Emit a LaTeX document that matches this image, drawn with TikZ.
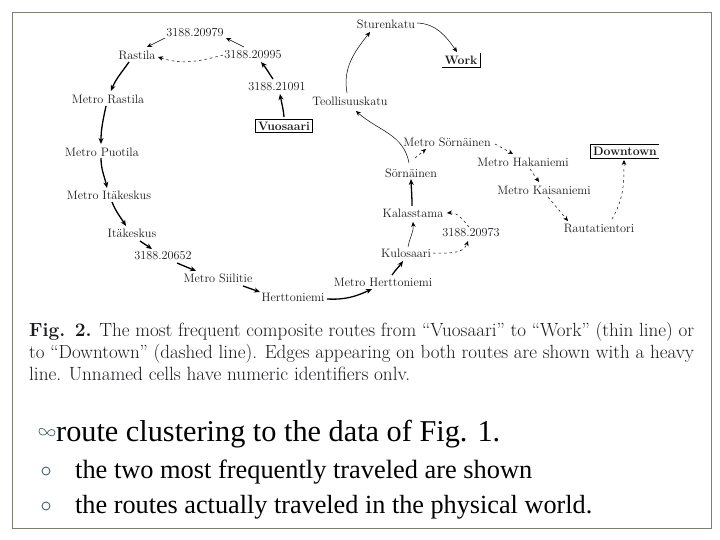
\documentclass[tikz,border=0pt]{standalone}
\usepackage{fontspec}
\usepackage{graphicx}
\newfontfamily\slidefont{Liberation Serif}
\usetikzlibrary{arrows.meta}
\definecolor{framecol}{RGB}{125,128,105}
\definecolor{bulletcol}{RGB}{70,100,115}
\definecolor{inkcol}{RGB}{25,25,30}
\tikzset{
  place/.style={font=\fontsize{12.2}{14}\selectfont,text=inkcol,inner sep=1.5pt},
  goal/.style={place,draw,line width=0.8pt,inner sep=2.5pt},
  goalopen/.style={place,inner sep=2.5pt},
  heavy/.style={-{Stealth[length=6pt,width=5pt]},line width=1.3pt},
  thinroute/.style={-{Stealth[length=5pt,width=4.5pt]},line width=0.5pt},
  dashroute/.style={thinroute,dash pattern=on 2.5pt off 3pt},
  caption/.style={anchor=base west,inner sep=0pt,font=\fontsize{16}{18}\selectfont,text=inkcol},
  slide/.style={anchor=base west,inner sep=0pt,font=\slidefont,text=black},
}
\begin{document}
\begin{tikzpicture}[x=1pt,y=-1pt]
\useasboundingbox (0,0) rectangle (720,540);
\fill[white] (0,0) rectangle (720,540);
\draw[framecol,line width=1pt] (12,12.5) rectangle (711.5,528);
% nodes
\node[place] (a20979) at (195,33) {3188.20979};
\node[place] (rastila) at (137,55) {Rastila};
\node[place] (a20995) at (253,55) {3188.20995};
\node[place] (a21091) at (277,87) {3188.21091};
\node[goal] (vuosaari) at (284,126) {\textbf{Vuosaari}};
\node[place] (mrastila) at (108,99) {Metro Rastila};
\node[place] (mpuotila) at (102,152) {Metro Puotila};
\node[place] (mitakeskus) at (109,195) {Metro Itäkeskus};
\node[place] (itakeskus) at (132,233) {Itäkeskus};
\node[place] (a20652) at (163,256) {3188.20652};
\node[place] (msiilitie) at (218,278) {Metro Siilitie};
\node[place] (hertto) at (293,297) {Herttoniemi};
\node[place] (mhertto) at (383,282) {Metro Herttoniemi};
\node[place] (kulo) at (406,253) {Kulosaari};
\node[place] (a20973) at (471,233) {3188.20973};
\node[place] (kala) at (413,213) {Kalasstama};
\node[place] (sorn) at (411,173) {Sörnäinen};
\node[place] (msorn) at (447,142) {Metro Sörnäinen};
\node[place] (mhaka) at (523,162) {Metro Hakaniemi};
\node[place] (mkaisa) at (544,190) {Metro Kaisaniemi};
\node[place] (rauta) at (599,228) {Rautatientori};
\node[goalopen] (downtown) at (625,151) {\textbf{Downtown}};
\node[place] (teol) at (350,101) {Teollisuuskatu};
\node[place] (sture) at (386,24) {Sturenkatu};
\node[goalopen] (work) at (461,60) {\textbf{Work}};
\draw[line width=0.8pt] (downtown.north east) -- (downtown.north west) -- (downtown.south west) -- (downtown.south east);
\draw[line width=0.8pt] (work.north east) -- (work.south east) -- (work.south west);
% heavy edges
\draw[heavy] ([shift={(0,-9)}]vuosaari.center) to[out=95,in=-80] ([shift={(3,7)}]a21091.center);
\draw[heavy] ([shift={(-4,-8)}]a21091.center) to[out=125,in=-50] ([shift={(8,7)}]a20995.center);
\draw[heavy] ([shift={(-8,7)}]rastila.center) to[out=-125,in=68] ([shift={(3,-8)}]mrastila.center);
\draw[heavy] ([shift={(-2,7)}]mrastila.center) to[out=-102,in=90] ([shift={(-1,-8)}]mpuotila.center);
\draw[heavy] ([shift={(-1,6)}]mpuotila.center) to[out=-90,in=102] ([shift={(-2,-7)}]mitakeskus.center);
\draw[heavy] ([shift={(3,7)}]mitakeskus.center) to[out=-68,in=122] ([shift={(-6,-7)}]itakeskus.center);
\draw[heavy] ([shift={(8,8)}]itakeskus.center) -- ([shift={(-11,-7)}]a20652.center);
\draw[heavy] ([shift={(14,7)}]a20652.center) -- ([shift={(-22,-7)}]msiilitie.center);
\draw[heavy] ([shift={(25,8)}]msiilitie.center) -- ([shift={(-33,-5)}]hertto.center);
\draw[heavy] ([shift={(34,2)}]hertto.center) to[out=-3,in=205] ([shift={(-11,7)}]mhertto.center);
\draw[heavy] ([shift={(9,-7)}]mhertto.center) to[out=55,in=-125] ([shift={(-3,8)}]kulo.center);
\draw[heavy] ([shift={(-1,-7)}]kala.center) to[out=90,in=-88] ([shift={(0,6)}]sorn.center);
% thin edges
\draw[thinroute] ([shift={(-9,-8)}]a20995.center) -- ([shift={(31,5)}]a20979.center);
\draw[thinroute] ([shift={(-30,5)}]a20979.center) -- ([shift={(10,-8)}]rastila.center);
\draw[thinroute] ([shift={(2,-6)}]kulo.center) to[out=80,in=-85] ([shift={(0,9)}]kala.center);
\draw[thinroute] ([shift={(-2,-10)}]sorn.center) to[out=100,in=-42] ([shift={(6,10)}]teol.center);
\draw[thinroute] ([shift={(-3,-8)}]teol.center) to[out=100,in=-128] ([shift={(-16,8)}]sture.center);
\draw[thinroute] ([shift={(31,-1)}]sture.center) to[out=-2,in=125] ([shift={(-4,-8)}]work.center);
% dashed edges
\draw[dashroute] ([shift={(-30,0)}]a20995.center) to[out=195,in=-18] ([shift={(21,2)}]rastila.center);
\draw[dashroute] ([shift={(27,0)}]kulo.center) to[out=0,in=-110] ([shift={(-3,8)}]a20973.center);
\draw[dashroute] ([shift={(-2,-6)}]a20973.center) to[out=130,in=5] ([shift={(34,0)}]kala.center);
\draw[dashroute] ([shift={(4,-15)}]sorn.center) -- ([shift={(-21,7)}]msorn.center);
\draw[dashroute] ([shift={(48,2)}]msorn.center) -- ([shift={(-10,-8)}]mhaka.center);
\draw[dashroute] ([shift={(7,7)}]mhaka.center) -- ([shift={(-5,-8)}]mkaisa.center);
\draw[dashroute] ([shift={(4,7)}]mkaisa.center) -- ([shift={(-31,-7)}]rauta.center);
\draw[dashroute] ([shift={(13,-9)}]rauta.center) to[out=60,in=-90] ([shift={(-1,9)}]downtown.center);
% caption
\node[caption] (cap1) at (29,336) {\resizebox{665pt}{!}{\textbf{Fig. 2.} The most frequent composite routes from “Vuosaari” to “Work” (thin line) or}};
\node[caption] (cap2) at (29,358) {\resizebox{665pt}{!}{to “Downtown” (dashed line). Edges appearing on both routes are shown with a heavy}};
\begin{scope}
\clip (0,300) rectangle (720,379);
\node[caption] (cap3) at (29,380) {\resizebox{381pt}{!}{line. Unnamed cells have numeric identifiers only.}};
\end{scope}
% slide text
\draw[bulletcol,line width=0.7pt] (47,433) .. controls (44,427) and (39,427) .. (39,431) .. controls (39,436) and (45,436) .. (47,433) .. controls (49,429) and (54,428) .. (55,432) .. controls (55,437) and (50,437) .. (47,433);
\node[slide] (t1) at (56,441) {\resizebox{444pt}{!}{\fontsize{27}{30}\selectfont route clustering to the data of Fig. 1.}};
\draw[bulletcol,line width=0.9pt] (46,471) circle (4);
\node[slide] (t2) at (75,478) {\resizebox{457pt}{!}{\fontsize{23}{26}\selectfont the two most frequently traveled are shown}};
\draw[bulletcol,line width=0.9pt] (46,506) circle (4);
\node[slide] (t3) at (75,513) {\resizebox{517pt}{!}{\fontsize{23}{26}\selectfont the routes actually traveled in the physical world.}};
\end{tikzpicture}
\end{document}
